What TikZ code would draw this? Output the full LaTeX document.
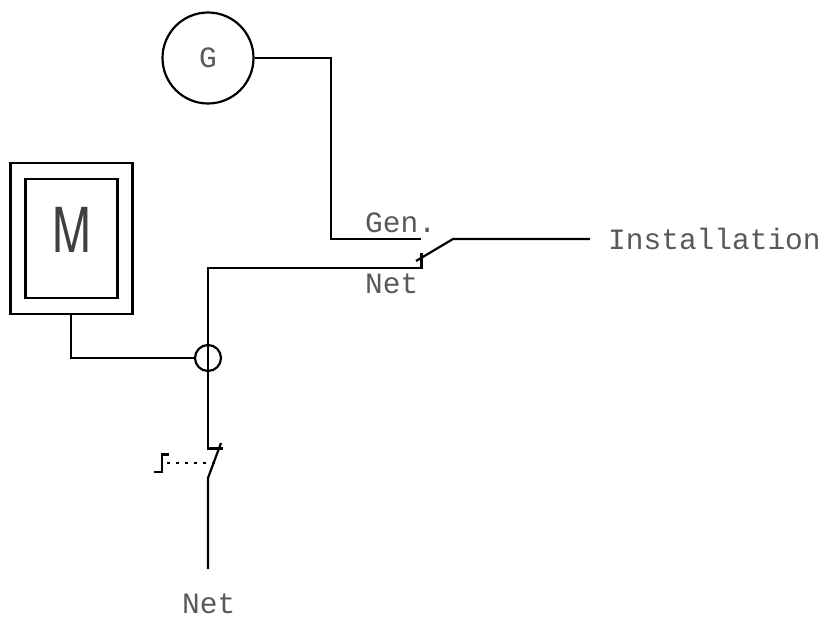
\documentclass[tikz,border=0pt]{standalone}
\usepackage{fontspec}
\setmonofont{Liberation Mono}
\setsansfont{TeX Gyre Heros}
\tikzset{
  wire/.style={line width=2.2pt,black},
  lab/.style={inner sep=0pt,font=\fontsize{29.5}{29.5}\selectfont\ttfamily,text=black!65,anchor=base west},
  box/.style={draw,line width=2.2pt,minimum width=#1,inner sep=0pt},
  ring/.style={circle,draw,line width=2.2pt,inner sep=0pt,minimum size=#1}
}
\begin{document}
\begin{tikzpicture}[x=1pt,y=-1pt]
\useasboundingbox (0,0) rectangle (826,617);
\node[ring=91pt,font=\fontsize{29.5}{29.5}\selectfont\ttfamily,text=black!65] (G) at (208,58) {G};
\node[box=122pt,minimum height=151pt] (Mo) at (71.5,238.5) {};
\node[box=92pt,minimum height=119pt] (Mi) at (71.5,238.5) {};
\node[inner sep=0pt,xscale=.75,font=\fontsize{62}{62}\selectfont\sffamily,text=black!75] (Mt) at (71.5,230) {M};
\node[ring=26pt] (J) at (208,358) {};
\coordinate (a1) at (331,58);
\coordinate (a2) at (331,239);
\coordinate (a3) at (421,239);
\draw[wire] (G.east) -- (a1) -- (a2) -- (a3);
\coordinate (b1) at (421.5,268);
\coordinate (b2) at (208,268);
\coordinate (b3) at (421.5,253);
\coordinate (c1) at (416,261);
\coordinate (c2) at (453,239);
\coordinate (c3) at (590,239);
\draw[wire] (J.center) -- (b2) -- (b1) -- (b3);
\draw[wire] (c1) -- (c2) -- (c3);
\coordinate (m1) at (71,358);
\draw[wire] (Mo.south -| m1) -- (m1) -- (J.west);
\coordinate (s1) at (208,448.5);
\coordinate (s2) at (223,448.5);
\coordinate (s3) at (221,443);
\coordinate (s4) at (208,478);
\coordinate (s5) at (208,569);
\draw[wire] (J.center) -- (s1) -- (s2);
\draw[wire] (s3) -- (s4) -- (s5);
\coordinate (d1) at (167,463);
\coordinate (d2) at (215,463);
\draw[line width=2.2pt,dash pattern=on 2.5pt off 6.5pt] (d1) -- (d2);
\coordinate (e1) at (154,472);
\coordinate (e2) at (162,472);
\coordinate (e3) at (162,454.5);
\coordinate (e4) at (169,454.5);
\draw[wire] (e1) -- (e2) -- (e3) -- (e4);
\node[lab] (t1) at (365,233) {Gen.};
\node[lab] (t2) at (365,293) {Net};
\node[lab] (t3) at (608,250) {Installation};
\node[lab] (t4) at (182,613) {Net};
\end{tikzpicture}
\end{document}
